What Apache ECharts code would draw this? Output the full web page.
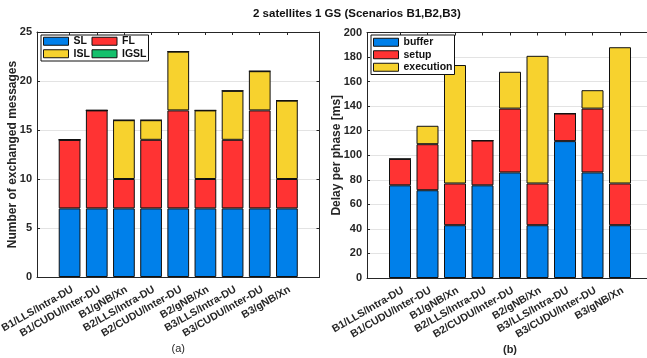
<!DOCTYPE html>
<html>
<head>
<meta charset="utf-8">
<script src="https://cdn.jsdelivr.net/npm/echarts@6/dist/echarts.min.js"></script>
<style>
  html, body { margin: 0; padding: 0; background: #fff; }
  #main { width: 647px; height: 358px; }
</style>
</head>
<body>
<div id="main"></div>
<script>
var categories = ['B1/LLS/Intra-DU', 'B1/CUDU/Inter-DU', 'B1/gNB/Xn',
                  'B2/LLS/Intra-DU', 'B2/CUDU/Inter-DU', 'B2/gNB/Xn',
                  'B3/LLS/Intra-DU', 'B3/CUDU/Inter-DU', 'B3/gNB/Xn'];

// (a) number of exchanged messages
var slMsgs   = [7, 7, 7, 7, 7, 7, 7, 7, 7];
var flMsgs   = [7, 10, 3, 7, 10, 3, 7, 10, 3];
var islMsgs  = [0, 0, 6, 2, 6, 7, 5, 4, 8];
var igslMsgs = [0, 0, 0, 0, 0, 0, 0, 0, 0];

// (b) delay per phase [ms]
var bufferMs    = [75.5, 71.5, 43, 75.5, 86, 43, 111.5, 86, 43];
var setupMs     = [21.5, 37.5, 34, 36.5, 52, 34, 22.5, 52, 34];
var executionMs = [0, 15, 96.5, 0, 30, 104, 0, 15, 111];

var msgTicks = [0, 5, 10, 15, 20, 25];
var delayTicks = [0, 20, 40, 60, 80, 100, 120, 140, 160, 180, 200];

var catPos = categories.map(function (c, i) { return i + 1; });

var BLUE = '#0080ea', RED = '#ff3333', YELLOW = '#f7d22e', GREEN = '#14c06c';
var AXIS = '#262626';
var FONT = 'Liberation Sans';

// panel frames (MATLAB xlim is about [-0.2, 10.2] around bars at 1..9)
var frames = [
  { left: 37, right: 319.5, top: 32, bottom: 277 },
  { left: 367, right: 653, top: 32.5, bottom: 278 }
];
function grids() {
  var out = [];
  frames.forEach(function (f) {
    var step = (f.right - f.left) / 10.4;
    out.push({ left: f.left, right: 647 - f.right, top: f.top, bottom: 358 - f.bottom, outerBoundsMode: 'none' });
    out.push({ left: f.left + 0.7 * step, right: 647 - (f.right - 0.7 * step), top: f.top, bottom: 358 - f.bottom, outerBoundsMode: 'none' });
  });
  return out;
}

function barSeries(name, vals, color, panel, stack) {
  return {
    name: name, type: 'bar', stack: stack,
    xAxisIndex: panel * 3 + 2, yAxisIndex: panel * 3 + 2,
    barWidth: '80%',
    data: vals,
    itemStyle: { color: color, borderColor: '#111', borderWidth: 1 },
    emphasis: { disabled: true }
  };
}

function frameX(panel, pos, name) {
  return {
    type: 'value', gridIndex: panel * 2, min: -0.2, max: 10.2, position: pos,
    name: name, nameLocation: 'middle', nameGap: 66,
    nameMoveOverlap: false,
    nameTextStyle: { fontFamily: FONT, fontSize: 11, color: AXIS, fontWeight: panel ? 'bold' : 'normal' },
    axisLine: { show: true, onZero: false, lineStyle: { color: AXIS, width: 1 } },
    axisTick: { show: true, inside: true, length: 3, customValues: catPos, lineStyle: { color: AXIS } },
    axisLabel: { show: false },
    splitLine: { show: false }
  };
}

function barX(panel) {
  return {
    type: 'category', gridIndex: panel * 2 + 1, data: categories,
    axisLine: { show: false }, axisTick: { show: false },
    axisLabel: {
      interval: 0, rotate: 30, margin: 7, verticalAlign: 'top',
      fontFamily: FONT, fontSize: 10.5, fontWeight: 'bold', color: AXIS
    },
    splitLine: { show: false }
  };
}

function frameY(panel, pos, name, ticks, gap) {
  var left = pos === 'left';
  return {
    type: 'value', gridIndex: panel * 2, position: pos,
    min: ticks[0], max: ticks[ticks.length - 1], interval: ticks[1] - ticks[0],
    name: left ? name : '', nameLocation: 'middle', nameGap: gap,
    nameMoveOverlap: false,
    nameTextStyle: { fontFamily: FONT, fontSize: 12, fontWeight: 'bold', color: AXIS },
    axisLine: { show: true, onZero: false, lineStyle: { color: AXIS, width: 1 } },
    axisTick: { show: true, inside: true, length: 3, lineStyle: { color: AXIS } },
    axisLabel: { show: left, margin: 5, fontFamily: FONT, fontSize: 11, fontWeight: 'bold', color: AXIS },
    splitLine: { show: left, lineStyle: { color: '#e3e3e3', width: 1 } }
  };
}

function barY(panel, ticks) {
  return {
    type: 'value', gridIndex: panel * 2 + 1,
    min: ticks[0], max: ticks[ticks.length - 1],
    axisLine: { show: false }, axisTick: { show: false },
    axisLabel: { show: false }, splitLine: { show: false }
  };
}

var chart = echarts.init(document.getElementById('main'), null, { renderer: 'canvas' });

var legendFont = { fontFamily: FONT, fontSize: 10.5, fontWeight: 'bold', color: '#111' };

var option = {
  animation: false,
  backgroundColor: '#fff',
  title: {
    text: '2 satellites 1 GS (Scenarios B1,B2,B3)',
    left: 248, top: 3,
    textStyle: { fontFamily: FONT, fontSize: 11.5, fontWeight: 'bold', color: '#111' }
  },
  grid: grids(),
  legend: [
    {
      data: ['SL', 'FL', 'ISL', 'IGSL'],
      left: 41, top: 35, width: 110, orient: 'horizontal',
      itemWidth: 25, itemHeight: 8, itemGap: 0,
      padding: [0, 2, 1, 2],
      borderColor: '#111', borderWidth: 1, backgroundColor: '#fff',
      icon: 'rect', selectedMode: false,
      formatter: function (n) {
        return (n === 'SL' || n === 'ISL') ? '{c1|' + n + '}' : '{c2|' + n + '}';
      },
      textStyle: {
        lineHeight: 12.5,
        rich: {
          c1: Object.assign({ width: 18, lineHeight: 12.5 }, legendFont),
          c2: Object.assign({ lineHeight: 12.5 }, legendFont)
        }
      },
      itemStyle: { borderColor: '#111', borderWidth: 1 }
    },
    {
      data: ['buffer', 'setup', 'execution'],
      left: 371, top: 35, orient: 'vertical',
      itemWidth: 25, itemHeight: 8, itemGap: 0,
      padding: [1, 2, 1, 2],
      borderColor: '#111', borderWidth: 1, backgroundColor: '#fff',
      icon: 'rect', selectedMode: false,
      textStyle: Object.assign({ lineHeight: 12.5 }, legendFont),
      itemStyle: { borderColor: '#111', borderWidth: 1 }
    }
  ],
  xAxis: [
    frameX(0, 'bottom', '(a)'), frameX(0, 'top', ''), barX(0),
    frameX(1, 'bottom', '(b)'), frameX(1, 'top', ''), barX(1)
  ],
  yAxis: [
    frameY(0, 'left', 'Number of exchanged messages', msgTicks, 18),
    frameY(0, 'right', '', msgTicks, 0),
    barY(0, msgTicks),
    frameY(1, 'left', 'Delay per phase [ms]', delayTicks, 24),
    frameY(1, 'right', '', delayTicks, 0),
    barY(1, delayTicks)
  ],
  series: [
    barSeries('SL', slMsgs, BLUE, 0, 'msgs'),
    barSeries('FL', flMsgs, RED, 0, 'msgs'),
    barSeries('ISL', islMsgs, YELLOW, 0, 'msgs'),
    barSeries('IGSL', igslMsgs, GREEN, 0, 'msgs'),
    barSeries('buffer', bufferMs, BLUE, 1, 'delay'),
    barSeries('setup', setupMs, RED, 1, 'delay'),
    barSeries('execution', executionMs, YELLOW, 1, 'delay')
  ]
};

chart.setOption(option);
</script>
</body>
</html>
